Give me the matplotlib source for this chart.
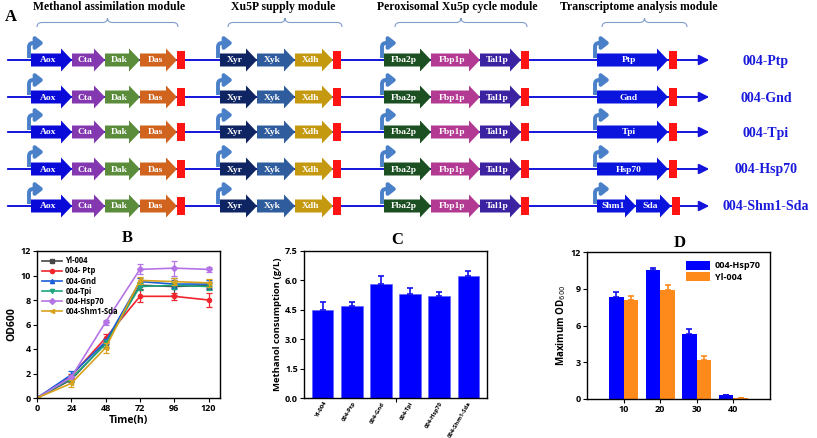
import matplotlib
matplotlib.use("Agg")
import matplotlib.pyplot as plt
import numpy as np
from matplotlib.patches import Polygon, Rectangle, FancyArrowPatch, PathPatch
from matplotlib.path import Path

# ---------------- data ----------------
# Panel A (construct map)
module_titles = ["Methanol assimilation module", "Xu5P supply module",
                 "Peroxisomal Xu5p cycle module", "Transcriptome analysis module"]
methanol_genes = ["Aox", "Cta", "Dak", "Das"]
methanol_colors = ["#0a0ad8", "#8338b0", "#5a8c3c", "#d0641e"]
xu5p_genes = ["Xyr", "Xyk", "Xdh"]
xu5p_colors = ["#0f2463", "#2f5c9c", "#c4990f"]
perox_genes = ["Fba2p", "Fbp1p", "Tal1p"]
perox_colors = ["#1c4f22", "#b23a92", "#3a22a0"]
strain_names = ["004-Ptp", "004-Gnd", "004-Tpi", "004-Hsp70", "004-Shm1-Sda"]
transcript_genes = [["Ptp"], ["Gnd"], ["Tpi"], ["Hsp70"], ["Shm1", "Sda"]]

# Panel B (growth curves)
time_h = [0, 24, 48, 72, 96, 120]
growth_labels = ["Yl-004", "004- Ptp", "004-Gnd", "004-Tpi", "004-Hsp70", "004-Shm1-Sda"]
od_yl004 = [0, 1.5, 4.5, 9.2, 9.1, 9.2]
od_ptp = [0, 1.8, 4.9, 8.3, 8.3, 8.0]
od_gnd = [0, 1.9, 4.6, 9.5, 9.3, 9.3]
od_tpi = [0, 1.6, 4.4, 9.1, 9.2, 9.1]
od_hsp70 = [0, 1.7, 6.2, 10.5, 10.6, 10.5]
od_shm = [0, 1.2, 4.1, 9.6, 9.5, 9.4]
err_yl004 = [0, 0.2, 0.3, 0.3, 0.7, 0.3]
err_ptp = [0, 0.2, 0.3, 0.5, 0.3, 0.6]
err_gnd = [0, 0.3, 0.2, 0.3, 0.3, 0.3]
err_tpi = [0, 0.2, 0.3, 0.3, 0.3, 0.3]
err_hsp70 = [0, 0.1, 0.2, 0.4, 0.6, 0.2]
err_shm = [0, 0.3, 0.4, 0.3, 0.3, 0.3]

# Panel C (methanol consumption)
strains_c = ["Yl-004", "004-Ptp", "004-Gnd", "004-Tpi", "004-Hsp70", "004-Shm1-Sda"]
methanol_use = [4.5, 4.7, 5.8, 5.3, 5.2, 6.2]
methanol_err = [0.4, 0.2, 0.4, 0.3, 0.2, 0.3]

# Panel D (max OD vs concentration)
conc = [10, 20, 30, 40]
maxod_hsp70 = [8.3, 10.5, 5.3, 0.3]
maxod_hsp70_err = [0.4, 0.2, 0.4, 0.05]
maxod_yl004 = [8.1, 8.9, 3.2, 0.05]
maxod_yl004_err = [0.3, 0.4, 0.3, 0.0]

# ---------------- figure ----------------
fig = plt.figure(figsize=(8.17, 4.38), dpi=100)
SANS = "Open Sans"
SERIF = "Liberation Serif"

# ---- Panel A drawn in pixel coordinates ----
axA = fig.add_axes([0, 0, 1, 1])
axA.set_xlim(0, 817)
axA.set_ylim(438, 0)
axA.axis("off")

row_y = [60, 97, 132, 169, 206]
line_col = "#1414dc"
prom_col = "#4a80c8"
HB, HH, HL = 6.5, 11.5, 11


def gene(x0, x1, y, col, name):
    pts = [(x0, y - HB), (x1 - HL, y - HB), (x1 - HL, y - HH), (x1, y),
           (x1 - HL, y + HH), (x1 - HL, y + HB), (x0, y + HB)]
    axA.add_patch(Polygon(pts, closed=True, fc=col, ec="none", zorder=3))
    axA.text((x0 + x1 - HL) / 2 + 2, y + 0.5, name, color="white", fontsize=6.8,
             fontweight="bold", family=SERIF, ha="center", va="center", zorder=4)


def term(x, y):
    axA.add_patch(Rectangle((x, y - 9), 8, 18, fc="#ff1414", ec="none", zorder=3))


def promoter(x, y):
    verts = [(x, y - 2), (x, y - 13), (x, y - 17), (x + 4, y - 17), (x + 15, y - 17)]
    codes = [Path.MOVETO, Path.LINETO, Path.CURVE3, Path.CURVE3, Path.LINETO]
    p = FancyArrowPatch(path=Path(verts, codes),
                        arrowstyle="-|>,head_length=0.45,head_width=0.35",
                        mutation_scale=10, lw=2.8, color=prom_col, zorder=2,
                        capstyle="butt", joinstyle="round")
    axA.add_patch(p)


def module(starts, names, cols, y, tx):
    promoter(starts[0] - 2, y)
    for i, (n, c) in enumerate(zip(names, cols)):
        gene(starts[i], starts[i + 1], y, c, n)
    term(tx, y)


for r, y in enumerate(row_y):
    axA.add_patch(FancyArrowPatch((5, y), (712, y), arrowstyle="-|>,head_length=0.6,head_width=0.3",
                                  mutation_scale=10, lw=1.4, color=line_col, zorder=1))
    module([31, 72, 105, 140, 177], methanol_genes, methanol_colors, y, 177)
    module([220, 257, 295, 333], xu5p_genes, xu5p_colors, y, 333)
    module([384, 431, 480, 521], perox_genes, perox_colors, y, 521)
    tg = transcript_genes[r]
    if len(tg) == 1:
        s = [597, 668]
    else:
        s = [597, 636, 671]
    module(s, tg, ["#0a14dc"] * len(tg), y, s[-1] + 1)
    axA.text(766, y + 1, strain_names[r], color="#1a1adc", fontsize=10, fontweight="bold",
             family=SERIF, ha="center", va="center")

# module headings and braces
head_x = [109, 283, 457, 639]
brace_span = [(37, 178), (228, 342), (395, 527), (602, 687)]
for t, hx, (b0, b1) in zip(module_titles, head_x, brace_span):
    axA.text(hx, 7, t, fontsize=8.5, fontweight="bold", family=SERIF, ha="center", va="center")
    m = (b0 + b1) / 2
    verts = [(b0, 27), (b0, 22.5), (b0 + 5, 22.5), (m - 5, 22.5), (m, 22.5), (m, 18),
             (m, 22.5), (m + 5, 22.5), (b1 - 5, 22.5), (b1, 22.5), (b1, 27)]
    codes = [Path.MOVETO, Path.CURVE3, Path.CURVE3, Path.LINETO, Path.CURVE3, Path.CURVE3,
             Path.CURVE3, Path.CURVE3, Path.LINETO, Path.CURVE3, Path.CURVE3]
    axA.add_patch(PathPatch(Path(verts, codes), fc="none", ec="#7f9cc8", lw=0.8))
axA.text(5, 17, "A", fontsize=12, fontweight="bold", family=SERIF, ha="left", va="center")

# panel letters
for lab, (px, py) in zip("BCD", [(127, 238), (397, 240), (680, 243)]):
    axA.text(px, py, lab, fontsize=12, fontweight="bold", family=SERIF, ha="center", va="center")


def style_axes(ax):
    for sp in ax.spines.values():
        sp.set_linewidth(1.0)
    ax.tick_params(direction="out", length=3, width=0.8, labelsize=6.5, pad=1.5)
    for lab in ax.get_xticklabels() + ax.get_yticklabels():
        lab.set_fontweight("bold")
        lab.set_family(SANS)


# ---- Panel B ----
axB = fig.add_axes([37 / 817, 1 - 398 / 438, 183 / 817, 147 / 438])
series = [od_yl004, od_ptp, od_gnd, od_tpi, od_hsp70, od_shm]
errs = [err_yl004, err_ptp, err_gnd, err_tpi, err_hsp70, err_shm]
colsB = ["#454545", "#f0242c", "#1a5fd8", "#1ea67e", "#b574e6", "#d8a21c"]
marks = ["s", "o", "^", "v", "D", "<"]
for vals, e, c, m, lab in zip(series, errs, colsB, marks, growth_labels):
    axB.errorbar(time_h, vals, yerr=e, color=c, fmt="none", capsize=2,
                 elinewidth=0.9, capthick=0.9)
    axB.plot(time_h, vals, color=c, marker=m, ms=3, lw=1.2, label=lab)
axB.set_xlim(0, 128)
axB.set_ylim(0, 12)
axB.set_xticks(time_h)
axB.set_yticks([0, 2, 4, 6, 8, 10, 12])
axB.set_xlabel("Time(h)", fontsize=7.5, fontweight="bold", family=SANS, labelpad=1)
axB.set_ylabel("OD600", fontsize=7.5, fontweight="bold", family=SANS, labelpad=2)
style_axes(axB)
axB.legend(loc="upper left", frameon=False, handlelength=2.6,
           labelspacing=0.15, borderaxespad=0.3, handletextpad=0.4,
           prop={"family": SANS, "weight": "bold", "size": 5.5})

# ---- Panel C ----
axC = fig.add_axes([304 / 817, 1 - 398 / 438, 183 / 817, 147 / 438])
xc = np.arange(len(strains_c))
axC.bar(xc, methanol_use, width=0.73, color="#0000ff", edgecolor="#5a5aff", lw=0.4)
axC.errorbar(xc, methanol_use, yerr=[np.zeros(len(xc)), methanol_err], fmt="none",
             ecolor="#1010ee", elinewidth=1.2, capsize=2.5, capthick=1.2)
axC.set_xlim(-0.65, 5.65)
axC.set_ylim(0, 7.5)
axC.set_yticks([0, 1.5, 3.0, 4.5, 6.0, 7.5])
axC.set_yticklabels(["0.0", "1.5", "3.0", "4.5", "6.0", "7.5"])
axC.set_xticks(xc)
axC.set_xticklabels(strains_c, rotation=60, ha="right", rotation_mode="anchor")
axC.set_ylabel("Methanol consumption (g/L)", fontsize=6.8, fontweight="bold", family=SANS, labelpad=2)
style_axes(axC)
axC.tick_params(axis="x", length=0, labelsize=4.2, pad=2)
axC.set_xticks([2.5], minor=True)
axC.tick_params(axis="x", which="minor", length=3, width=0.8)

# ---- Panel D ----
axD = fig.add_axes([587 / 817, 1 - 399 / 438, 183 / 817, 147 / 438])
cd = np.array(conc, dtype=float)
axD.bar(cd - 2, maxod_hsp70, width=4, color="#0000ff", label="004-Hsp70")
axD.bar(cd + 2, maxod_yl004, width=4, color="#ff8a1c", label="Yl-004")
axD.errorbar(cd - 2, maxod_hsp70, yerr=[np.zeros(4), maxod_hsp70_err], fmt="none",
             ecolor="#1010ee", elinewidth=1.2, capsize=2.5, capthick=1.2)
axD.errorbar(cd + 2, maxod_yl004, yerr=[np.zeros(4), maxod_yl004_err], fmt="none",
             ecolor="#ff8a1c", elinewidth=1.2, capsize=2.5, capthick=1.2)
axD.set_xlim(0, 50)
axD.set_ylim(0, 12)
axD.set_xticks(conc)
axD.set_yticks([0, 3, 6, 9, 12])
axD.set_ylabel("Maximum OD$_{600}$", fontsize=7, fontweight="bold", family=SANS, labelpad=2)
style_axes(axD)
axD.legend(loc="upper right", frameon=False, handlelength=2.6, handleheight=1.1,
           labelspacing=0.2, borderaxespad=0.6, handletextpad=0.6,
           prop={"family": SANS, "weight": "bold", "size": 6.5})

fig.savefig("out.png", dpi=100)
